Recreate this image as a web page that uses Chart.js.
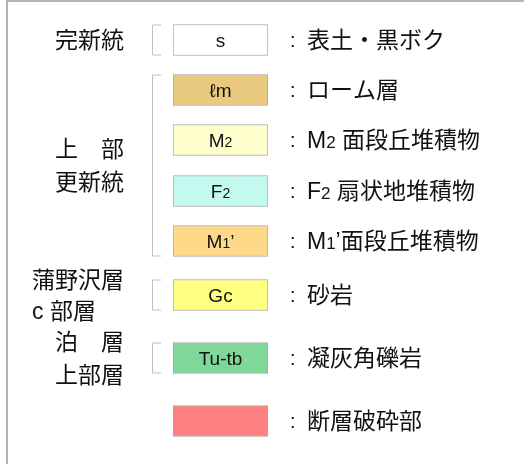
<!DOCTYPE html>
<html>
<head>
<meta charset="utf-8">
<script src="https://cdn.jsdelivr.net/npm/chart.js"></script>
<style>
  html, body { margin: 0; padding: 0; background: #ffffff; }
  #legendChart { display: block; }
</style>
</head>
<body>
<canvas id="legendChart" width="524" height="464"></canvas>
<script>
// Legend rows (top to bottom), position level (1 level = one row step)
const rowLevels = [0, 1, 2, 3.02, 4.02, 5.1, 6.36, 7.62];
const unitCodes = ['s', '\u2113m', 'M2', 'F2', 'M1\u2019', 'Gc', 'Tu-tb', ''];
const unitNames = ['表土・黒ボク', 'ローム層', 'M2 面段丘堆積物', 'F2 扇状地堆積物', 'M1\u2019面段丘堆積物', '砂岩', '凝灰角礫岩', '断層破砕部'];

// Stratigraphic groups: first row, last row, label lines
const groupFirst = [0, 1, 5, 6];
const groupLast = [0, 4, 5, 6];
const groupLines = [['完新統'], ['上　部', '更新統'], ['蒲野沢層', 'c 部層'], ['泊　層', '上部層']];

// Styles
const fillColors = ['#ffffff', '#e9c97e', '#ffffcc', '#c2faf0', '#ffd98a', '#ffff80', '#80d898', '#ff8080'];
const groupIndent = [55, 55, 32, 55];
const FONT = '"Liberation Sans", "Noto Sans CJK JP", sans-serif';
const BIG = 23;
const CODE = 19;
const INK = '#111111';

// draws text where a digit right after a latin letter is set smaller (M2, F2, M1')
function drawRich(ctx, text, x, y, size, align) {
    const runs = [];
    for (let i = 0; i < text.length; i++) {
        const ch = text[i];
        const small = /\d/.test(ch) && i > 0 && /[A-Za-z]/.test(text[i - 1]);
        const s = small ? Math.round(size * 0.72) : size;
        if (runs.length && runs[runs.length - 1].size === s) runs[runs.length - 1].str += ch;
        else runs.push({ str: ch, size: s });
    }
    let total = 0;
    runs.forEach(r => {
        ctx.font = r.size + 'px ' + FONT;
        r.w = ctx.measureText(r.str).width;
        total += r.w;
    });
    let cx = align === 'center' ? x - total / 2 : x;
    ctx.textAlign = 'left';
    ctx.textBaseline = 'alphabetic';
    runs.forEach(r => {
        ctx.font = r.size + 'px ' + FONT;
        ctx.fillText(r.str, cx, y + size * 0.36);
        cx += r.w;
    });
}

const framePlugin = {
    id: 'frame',
    beforeDraw(chart) {
        const ctx = chart.ctx;
        ctx.save();
        ctx.fillStyle = '#ffffff';
        ctx.fillRect(0, 0, chart.width, chart.height);
        ctx.fillStyle = '#b4b4b4';
        ctx.fillRect(6, 0, 2, chart.height);
        ctx.fillRect(6, 0, chart.width - 6, 2);
        ctx.restore();
    }
};

const labelPlugin = {
    id: 'labels',
    afterDatasetsDraw(chart) {
        const ctx = chart.ctx;
        const bars = chart.getDatasetMeta(0).data;
        ctx.save();
        ctx.fillStyle = INK;

        // codes inside boxes and descriptions on the right
        bars.forEach((bar, i) => {
            const left = Math.min(bar.x, bar.base);
            const right = Math.max(bar.x, bar.base);
            if (unitCodes[i]) drawRich(ctx, unitCodes[i], (left + right) / 2, bar.y, CODE, 'center');
            ctx.font = '20px ' + FONT;
            ctx.textAlign = 'left';
            ctx.textBaseline = 'middle';
            ctx.fillText(':', right + 22, bar.y + 1);
            drawRich(ctx, unitNames[i], right + 39, bar.y, BIG, 'left');
        });

        // brackets and group names on the left
        groupFirst.forEach((first, g) => {
            const a = bars[first];
            const b = bars[groupLast[g]];
            const top = a.y - a.height / 2;
            const bottom = b.y + b.height / 2;
            const bx = Math.min(a.x, a.base) - 21;
            ctx.strokeStyle = '#c0c0c0';
            ctx.lineWidth = 1;
            ctx.beginPath();
            ctx.moveTo(bx + 9, top + 0.5);
            ctx.lineTo(bx + 0.5, top + 0.5);
            ctx.lineTo(bx + 0.5, bottom - 0.5);
            ctx.lineTo(bx + 9, bottom - 0.5);
            ctx.stroke();

            const lines = groupLines[g];
            const mid = (top + bottom) / 2;
            const step = lines.length > 1 && g === 2 ? 31 : 33;
            lines.forEach((line, k) => {
                const y = mid + (k - (lines.length - 1) / 2) * step;
                drawRich(ctx, line, groupIndent[g], y, BIG, 'left');
            });
        });
        ctx.restore();
    }
};

new Chart(document.getElementById('legendChart'), {
    type: 'bar',
    data: {
        datasets: [{
            data: rowLevels.map(level => ({ y: level, x: [0, 1] })),
            backgroundColor: fillColors,
            borderColor: '#a6a6a6',
            borderWidth: 1,
            borderSkipped: false,
            barThickness: 31
        }]
    },
    options: {
        indexAxis: 'y',
        responsive: false,
        animation: false,
        layout: { padding: { left: 173, right: 256, top: 15, bottom: 19 } },
        scales: {
            x: { type: 'linear', min: 0, max: 1, offset: false, display: false },
            y: { type: 'linear', min: -0.5, max: 8.1, reverse: true, offset: false, display: false }
        },
        plugins: {
            legend: { display: false },
            tooltip: { enabled: false }
        }
    },
    plugins: [framePlugin, labelPlugin]
});
</script>
</body>
</html>
